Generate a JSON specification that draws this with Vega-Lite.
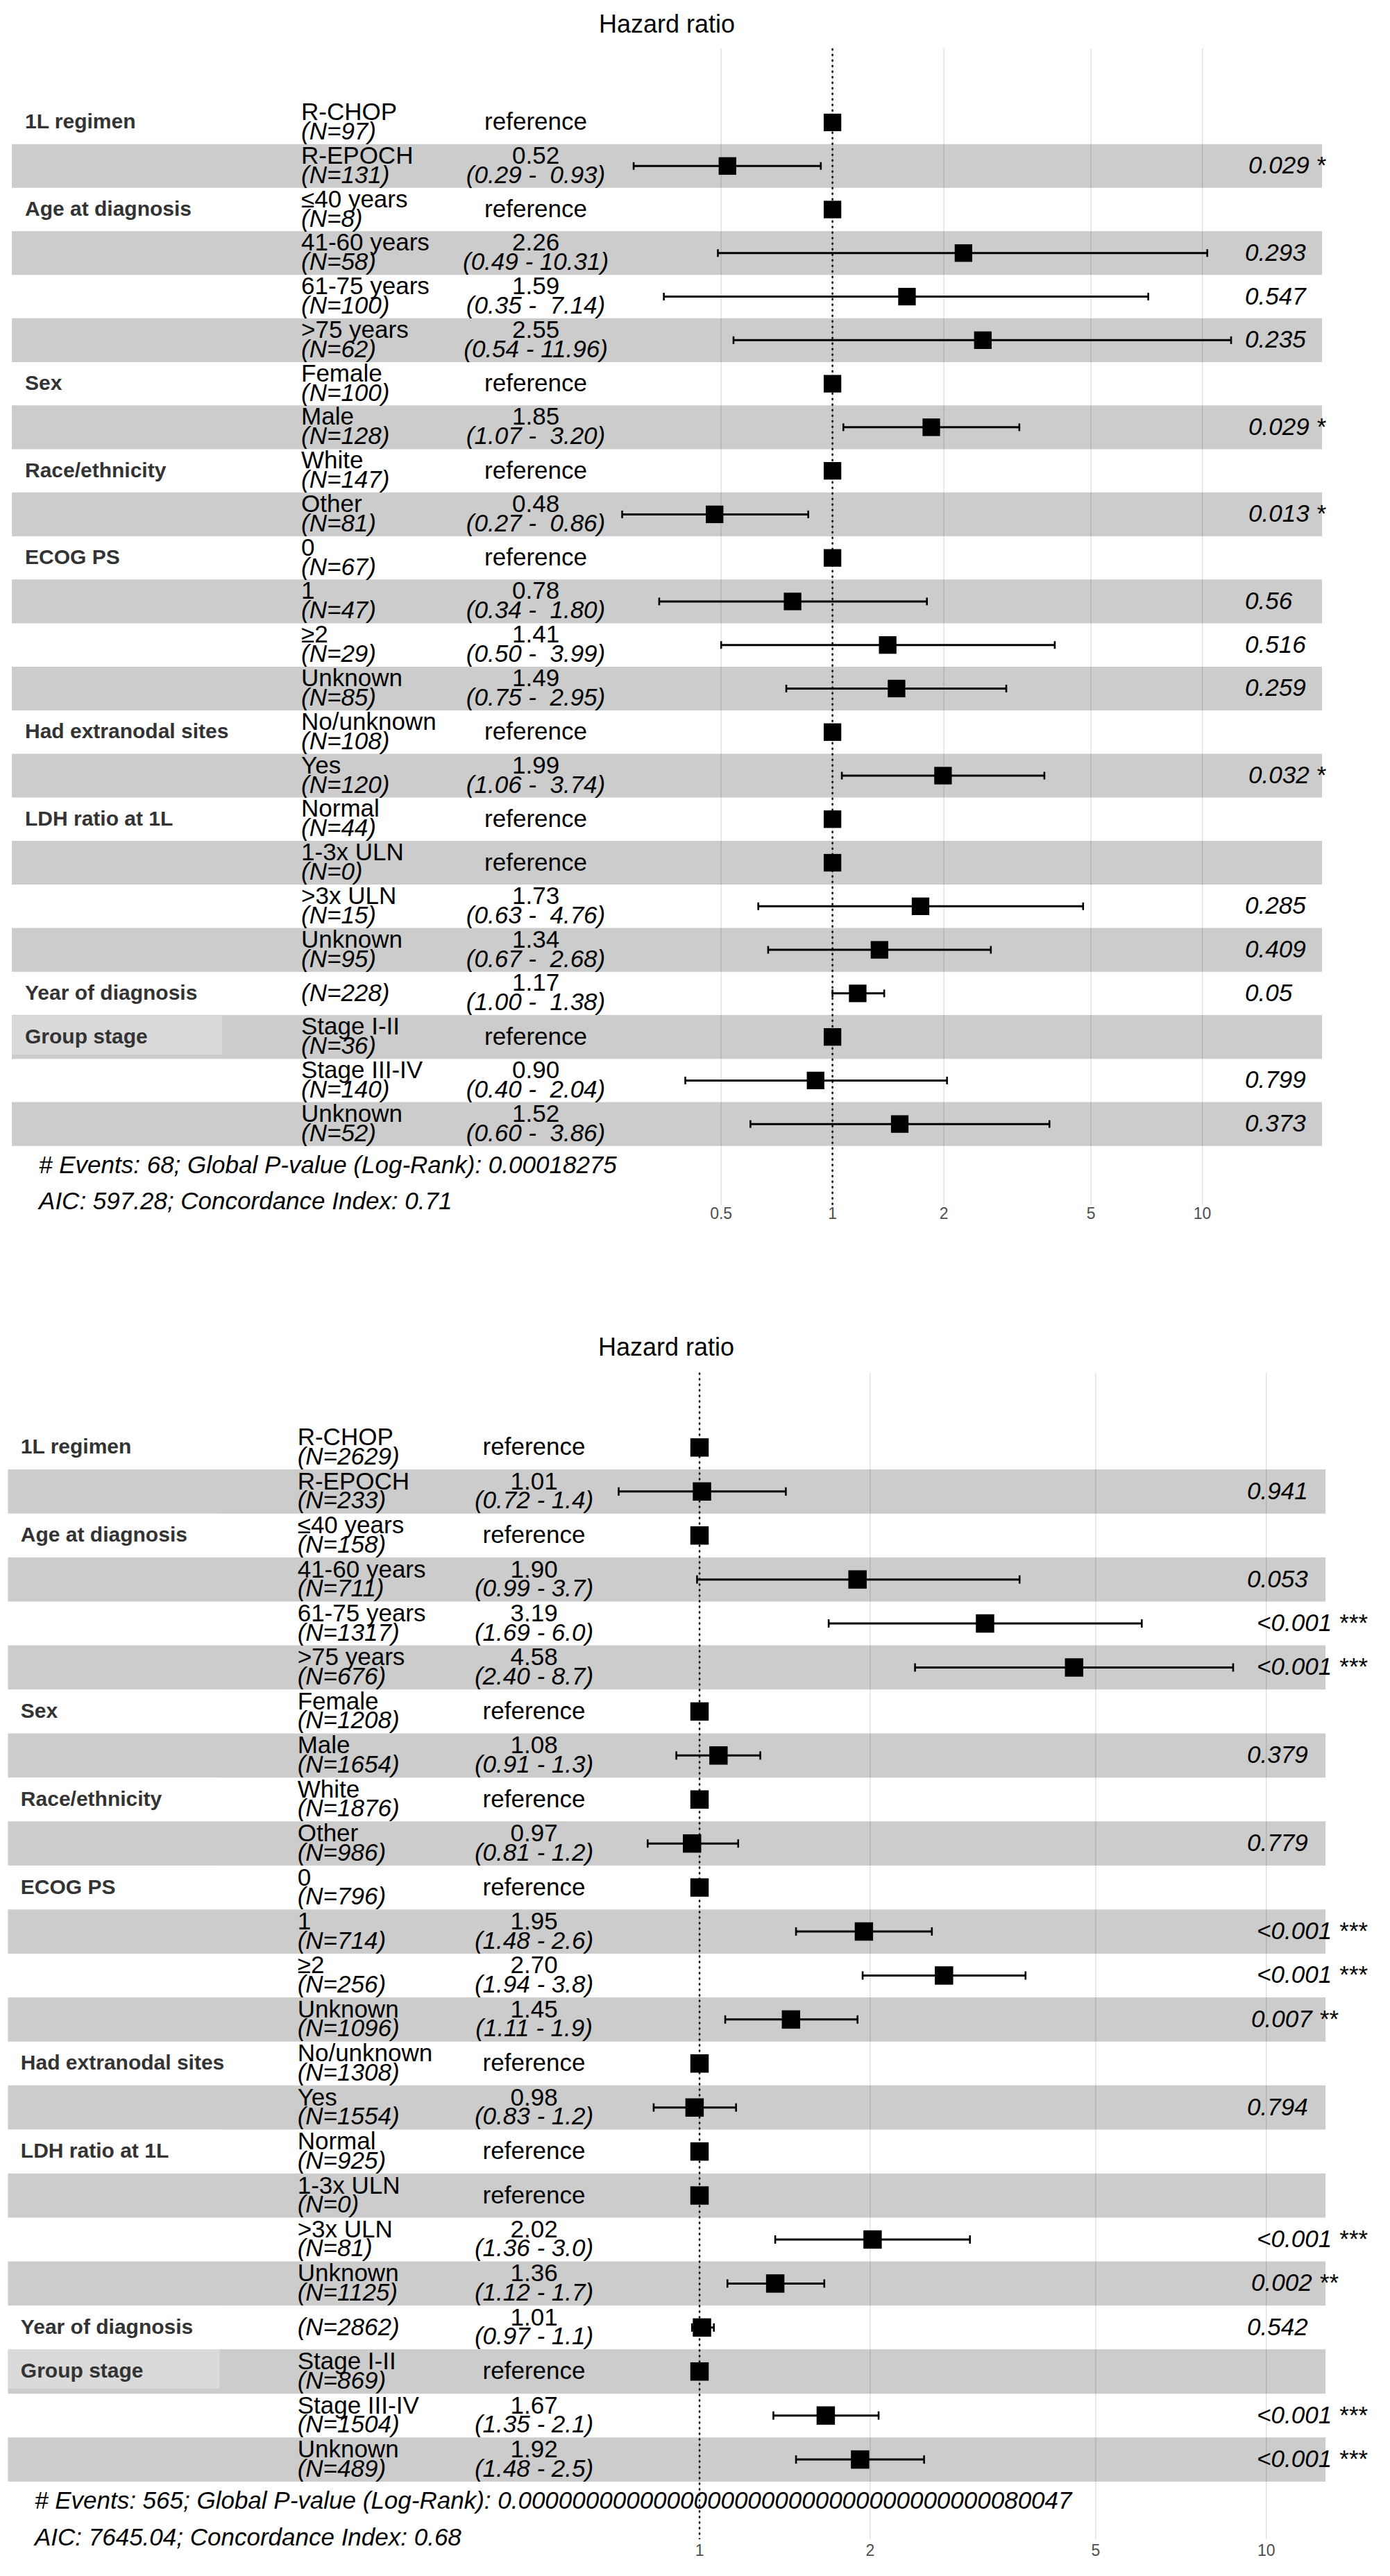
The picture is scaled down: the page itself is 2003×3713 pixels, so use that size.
{
"$schema": "https://vega.github.io/schema/vega-lite/v6.json",
"padding": 0,
"spacing": 158,
"bounds": "flush",
"background": "white",
"config": {"view": {"stroke": null}, "font": "Liberation Sans", "text": {"font": "Liberation Sans"}},
"datasets": {
"top": [
{"row":1,"group":"1L regimen","level":"R-CHOP","n":"(N=97)","est":"reference","ci":"","p":"","hr":1,"lo":null,"hi":null},
{"row":2,"group":"","level":"R-EPOCH","n":"(N=131)","est":"0.52","ci":"(0.29 -\u00a0 0.93)","p":"0.029 *","hr":0.52,"lo":0.29,"hi":0.93},
{"row":3,"group":"Age at diagnosis","level":"≤40 years","n":"(N=8)","est":"reference","ci":"","p":"","hr":1,"lo":null,"hi":null},
{"row":4,"group":"","level":"41-60 years","n":"(N=58)","est":"2.26","ci":"(0.49 - 10.31)","p":"0.293","hr":2.26,"lo":0.49,"hi":10.31},
{"row":5,"group":"","level":"61-75 years","n":"(N=100)","est":"1.59","ci":"(0.35 -\u00a0 7.14)","p":"0.547","hr":1.59,"lo":0.35,"hi":7.14},
{"row":6,"group":"","level":">75 years","n":"(N=62)","est":"2.55","ci":"(0.54 - 11.96)","p":"0.235","hr":2.55,"lo":0.54,"hi":11.96},
{"row":7,"group":"Sex","level":"Female","n":"(N=100)","est":"reference","ci":"","p":"","hr":1,"lo":null,"hi":null},
{"row":8,"group":"","level":"Male","n":"(N=128)","est":"1.85","ci":"(1.07 -\u00a0 3.20)","p":"0.029 *","hr":1.85,"lo":1.07,"hi":3.20},
{"row":9,"group":"Race/ethnicity","level":"White","n":"(N=147)","est":"reference","ci":"","p":"","hr":1,"lo":null,"hi":null},
{"row":10,"group":"","level":"Other","n":"(N=81)","est":"0.48","ci":"(0.27 -\u00a0 0.86)","p":"0.013 *","hr":0.48,"lo":0.27,"hi":0.86},
{"row":11,"group":"ECOG PS","level":"0","n":"(N=67)","est":"reference","ci":"","p":"","hr":1,"lo":null,"hi":null},
{"row":12,"group":"","level":"1","n":"(N=47)","est":"0.78","ci":"(0.34 -\u00a0 1.80)","p":"0.56","hr":0.78,"lo":0.34,"hi":1.80},
{"row":13,"group":"","level":"≥2","n":"(N=29)","est":"1.41","ci":"(0.50 -\u00a0 3.99)","p":"0.516","hr":1.41,"lo":0.50,"hi":3.99},
{"row":14,"group":"","level":"Unknown","n":"(N=85)","est":"1.49","ci":"(0.75 -\u00a0 2.95)","p":"0.259","hr":1.49,"lo":0.75,"hi":2.95},
{"row":15,"group":"Had extranodal sites","level":"No/unknown","n":"(N=108)","est":"reference","ci":"","p":"","hr":1,"lo":null,"hi":null},
{"row":16,"group":"","level":"Yes","n":"(N=120)","est":"1.99","ci":"(1.06 -\u00a0 3.74)","p":"0.032 *","hr":1.99,"lo":1.06,"hi":3.74},
{"row":17,"group":"LDH ratio at 1L","level":"Normal","n":"(N=44)","est":"reference","ci":"","p":"","hr":1,"lo":null,"hi":null},
{"row":18,"group":"","level":"1-3x ULN","n":"(N=0)","est":"reference","ci":"","p":"","hr":1,"lo":null,"hi":null},
{"row":19,"group":"","level":">3x ULN","n":"(N=15)","est":"1.73","ci":"(0.63 -\u00a0 4.76)","p":"0.285","hr":1.73,"lo":0.63,"hi":4.76},
{"row":20,"group":"","level":"Unknown","n":"(N=95)","est":"1.34","ci":"(0.67 -\u00a0 2.68)","p":"0.409","hr":1.34,"lo":0.67,"hi":2.68},
{"row":21,"group":"Year of diagnosis","level":"","n":"(N=228)","est":"1.17","ci":"(1.00 -\u00a0 1.38)","p":"0.05","hr":1.17,"lo":1.00,"hi":1.38},
{"row":22,"group":"Group stage","level":"Stage I-II","n":"(N=36)","est":"reference","ci":"","p":"","hr":1,"lo":null,"hi":null},
{"row":23,"group":"","level":"Stage III-IV","n":"(N=140)","est":"0.90","ci":"(0.40 -\u00a0 2.04)","p":"0.799","hr":0.90,"lo":0.40,"hi":2.04},
{"row":24,"group":"","level":"Unknown","n":"(N=52)","est":"1.52","ci":"(0.60 -\u00a0 3.86)","p":"0.373","hr":1.52,"lo":0.60,"hi":3.86}
],
"bottom": [
{"row":1,"group":"1L regimen","level":"R-CHOP","n":"(N=2629)","est":"reference","ci":"","p":"","hr":1,"lo":null,"hi":null},
{"row":2,"group":"","level":"R-EPOCH","n":"(N=233)","est":"1.01","ci":"(0.72 - 1.4)","p":"0.941","hr":1.01,"lo":0.72,"hi":1.42},
{"row":3,"group":"Age at diagnosis","level":"≤40 years","n":"(N=158)","est":"reference","ci":"","p":"","hr":1,"lo":null,"hi":null},
{"row":4,"group":"","level":"41-60 years","n":"(N=711)","est":"1.90","ci":"(0.99 - 3.7)","p":"0.053","hr":1.90,"lo":0.99,"hi":3.67},
{"row":5,"group":"","level":"61-75 years","n":"(N=1317)","est":"3.19","ci":"(1.69 - 6.0)","p":"<0.001 ***","hr":3.19,"lo":1.69,"hi":6.03},
{"row":6,"group":"","level":">75 years","n":"(N=676)","est":"4.58","ci":"(2.40 - 8.7)","p":"<0.001 ***","hr":4.58,"lo":2.40,"hi":8.74},
{"row":7,"group":"Sex","level":"Female","n":"(N=1208)","est":"reference","ci":"","p":"","hr":1,"lo":null,"hi":null},
{"row":8,"group":"","level":"Male","n":"(N=1654)","est":"1.08","ci":"(0.91 - 1.3)","p":"0.379","hr":1.08,"lo":0.91,"hi":1.28},
{"row":9,"group":"Race/ethnicity","level":"White","n":"(N=1876)","est":"reference","ci":"","p":"","hr":1,"lo":null,"hi":null},
{"row":10,"group":"","level":"Other","n":"(N=986)","est":"0.97","ci":"(0.81 - 1.2)","p":"0.779","hr":0.97,"lo":0.81,"hi":1.17},
{"row":11,"group":"ECOG PS","level":"0","n":"(N=796)","est":"reference","ci":"","p":"","hr":1,"lo":null,"hi":null},
{"row":12,"group":"","level":"1","n":"(N=714)","est":"1.95","ci":"(1.48 - 2.6)","p":"<0.001 ***","hr":1.95,"lo":1.48,"hi":2.57},
{"row":13,"group":"","level":"≥2","n":"(N=256)","est":"2.70","ci":"(1.94 - 3.8)","p":"<0.001 ***","hr":2.70,"lo":1.94,"hi":3.76},
{"row":14,"group":"","level":"Unknown","n":"(N=1096)","est":"1.45","ci":"(1.11 - 1.9)","p":"0.007 **","hr":1.45,"lo":1.11,"hi":1.90},
{"row":15,"group":"Had extranodal sites","level":"No/unknown","n":"(N=1308)","est":"reference","ci":"","p":"","hr":1,"lo":null,"hi":null},
{"row":16,"group":"","level":"Yes","n":"(N=1554)","est":"0.98","ci":"(0.83 - 1.2)","p":"0.794","hr":0.98,"lo":0.83,"hi":1.16},
{"row":17,"group":"LDH ratio at 1L","level":"Normal","n":"(N=925)","est":"reference","ci":"","p":"","hr":1,"lo":null,"hi":null},
{"row":18,"group":"","level":"1-3x ULN","n":"(N=0)","est":"reference","ci":"","p":"","hr":1,"lo":null,"hi":null},
{"row":19,"group":"","level":">3x ULN","n":"(N=81)","est":"2.02","ci":"(1.36 - 3.0)","p":"<0.001 ***","hr":2.02,"lo":1.36,"hi":3.00},
{"row":20,"group":"","level":"Unknown","n":"(N=1125)","est":"1.36","ci":"(1.12 - 1.7)","p":"0.002 **","hr":1.36,"lo":1.12,"hi":1.66},
{"row":21,"group":"Year of diagnosis","level":"","n":"(N=2862)","est":"1.01","ci":"(0.97 - 1.1)","p":"0.542","hr":1.01,"lo":0.97,"hi":1.06},
{"row":22,"group":"Group stage","level":"Stage I-II","n":"(N=869)","est":"reference","ci":"","p":"","hr":1,"lo":null,"hi":null},
{"row":23,"group":"","level":"Stage III-IV","n":"(N=1504)","est":"1.67","ci":"(1.35 - 2.1)","p":"<0.001 ***","hr":1.67,"lo":1.35,"hi":2.07},
{"row":24,"group":"","level":"Unknown","n":"(N=489)","est":"1.92","ci":"(1.48 - 2.5)","p":"<0.001 ***","hr":1.92,"lo":1.48,"hi":2.49}
],
"ticksTop": [{"hr":0.5,"label":"0.5"},{"hr":1,"label":"1"},{"hr":2,"label":"2"},{"hr":5,"label":"5"},{"hr":10,"label":"10"}],
"ticksBottom": [{"hr":1,"label":"1"},{"hr":2,"label":"2"},{"hr":5,"label":"5"},{"hr":10,"label":"10"}],
"notesTop": [
{"line":1,"text":"# Events: 68; Global P-value (Log-Rank): 0.00018275"},
{"line":2,"text":"AIC: 597.28; Concordance Index: 0.71"}
],
"notesBottom": [
{"line":1,"text":"# Events: 565; Global P-value (Log-Rank): 0.00000000000000000000000000000000000080047"},
{"line":2,"text":"AIC: 7645.04; Concordance Index: 0.68"}
],
"one": [{"title":"Hazard ratio"}]
},
"vconcat": [
{
"width": 2003, "height": 1742,
"data": {"name": "top"},
"layer": [
{"data": {"name": "ticksTop"}, "mark": {"type": "rule", "color": "#dedede", "strokeWidth": 1.3},
 "encoding": {
  "x": {"field": "hr", "type": "quantitative", "scale": {"type": "log", "domain": [0.005614, 32.16], "nice": false}, "axis": null},
  "y": {"datum": -0.7023, "type": "quantitative", "scale": {"domain": [-1.7319, 25.8616], "reverse": true, "nice": false, "zero": false}, "axis": null},
  "y2": {"datum": 25.8616}}},
{"data": {"name": "ticksTop"}, "mark": {"type": "text", "align": "center", "baseline": "middle", "fontSize": 23, "color": "#4d4d4d"},
 "encoding": {
  "x": {"field": "hr", "type": "quantitative", "scale": {"type": "log", "domain": [0.005614, 32.16], "nice": false}, "axis": null},
  "y": {"datum": 26.068, "type": "quantitative", "scale": {"domain": [-1.7319, 25.8616], "reverse": true, "nice": false, "zero": false}, "axis": null},
  "text": {"field": "label"}}},
{"transform": [{"filter": "datum.row % 2 == 0"}], "mark": {"type": "bar", "orient": "horizontal", "color": "black", "opacity": 0.2, "size": 63.13},
 "encoding": {
  "x": {"datum": 0.006043, "type": "quantitative", "scale": {"type": "log", "domain": [0.005614, 32.16], "nice": false}, "axis": null},
  "x2": {"datum": 21.06},
  "y": {"field": "row", "type": "quantitative", "scale": {"domain": [-1.7319, 25.8616], "reverse": true, "nice": false, "zero": false}, "axis": null}}},
{"transform": [{"filter": "datum.group != ''"}], "mark": {"type": "bar", "orient": "horizontal", "color": "white", "opacity": 0.27, "size": 56.3, "yOffset": -2.4},
 "encoding": {
  "x": {"datum": 0.006043, "type": "quantitative", "scale": {"type": "log", "domain": [0.005614, 32.16], "nice": false}, "axis": null},
  "x2": {"datum": 0.02237},
  "y": {"field": "row", "type": "quantitative", "scale": {"domain": [-1.7319, 25.8616], "reverse": true, "nice": false, "zero": false}, "axis": null}}},
{"data": {"name": "one"}, "mark": {"type": "rule", "color": "black", "strokeWidth": 2.4, "strokeDash": [3, 5]},
 "encoding": {
  "x": {"datum": 1, "type": "quantitative", "scale": {"type": "log", "domain": [0.005614, 32.16], "nice": false}, "axis": null},
  "y": {"datum": -0.7023, "type": "quantitative", "scale": {"domain": [-1.7319, 25.8616], "reverse": true, "nice": false, "zero": false}, "axis": null},
  "y2": {"datum": 25.8616}}},
{"transform": [{"filter": "isValid(datum.lo)"}], "mark": {"type": "rule", "color": "black", "strokeWidth": 3},
 "encoding": {
  "x": {"field": "lo", "type": "quantitative", "scale": {"type": "log", "domain": [0.005614, 32.16], "nice": false}, "axis": null},
  "x2": {"field": "hi"},
  "y": {"field": "row", "type": "quantitative", "scale": {"domain": [-1.7319, 25.8616], "reverse": true, "nice": false, "zero": false}, "axis": null}}},
{"transform": [{"filter": "isValid(datum.lo)"}], "mark": {"type": "tick", "orient": "vertical", "color": "black", "size": 11, "thickness": 2.6, "opacity": 1},
 "encoding": {
  "x": {"field": "lo", "type": "quantitative", "scale": {"type": "log", "domain": [0.005614, 32.16], "nice": false}, "axis": null},
  "y": {"field": "row", "type": "quantitative", "scale": {"domain": [-1.7319, 25.8616], "reverse": true, "nice": false, "zero": false}, "axis": null}}},
{"transform": [{"filter": "isValid(datum.hi)"}], "mark": {"type": "tick", "orient": "vertical", "color": "black", "size": 11, "thickness": 2.6, "opacity": 1},
 "encoding": {
  "x": {"field": "hi", "type": "quantitative", "scale": {"type": "log", "domain": [0.005614, 32.16], "nice": false}, "axis": null},
  "y": {"field": "row", "type": "quantitative", "scale": {"domain": [-1.7319, 25.8616], "reverse": true, "nice": false, "zero": false}, "axis": null}}},
{"mark": {"type": "point", "shape": "square", "filled": true, "color": "black", "opacity": 1, "size": 640},
 "encoding": {
  "x": {"field": "hr", "type": "quantitative", "scale": {"type": "log", "domain": [0.005614, 32.16], "nice": false}, "axis": null},
  "y": {"field": "row", "type": "quantitative", "scale": {"domain": [-1.7319, 25.8616], "reverse": true, "nice": false, "zero": false}, "axis": null}}},
{"transform": [{"filter": "datum.group != ''"}], "mark": {"type": "text", "align": "left", "baseline": "middle", "fontSize": 30, "fontWeight": "bold", "color": "#333333"},
 "encoding": {
  "x": {"datum": 0.006558, "type": "quantitative", "scale": {"type": "log", "domain": [0.005614, 32.16], "nice": false}, "axis": null},
  "y": {"field": "row", "type": "quantitative", "scale": {"domain": [-1.7319, 25.8616], "reverse": true, "nice": false, "zero": false}, "axis": null},
  "text": {"field": "group"}}},
{"transform": [{"filter": "datum.level != ''"}], "mark": {"type": "text", "align": "left", "baseline": "alphabetic", "dy": -3.5, "fontSize": 35, "color": "black"},
 "encoding": {
  "x": {"datum": 0.03661, "type": "quantitative", "scale": {"type": "log", "domain": [0.005614, 32.16], "nice": false}, "axis": null},
  "y": {"field": "row", "type": "quantitative", "scale": {"domain": [-1.7319, 25.8616], "reverse": true, "nice": false, "zero": false}, "axis": null},
  "text": {"field": "level"}}},
{"transform": [{"filter": "datum.level != ''"}], "mark": {"type": "text", "align": "left", "baseline": "alphabetic", "dy": 24.5, "fontSize": 35, "fontStyle": "italic", "color": "black"},
 "encoding": {
  "x": {"datum": 0.03661, "type": "quantitative", "scale": {"type": "log", "domain": [0.005614, 32.16], "nice": false}, "axis": null},
  "y": {"field": "row", "type": "quantitative", "scale": {"domain": [-1.7319, 25.8616], "reverse": true, "nice": false, "zero": false}, "axis": null},
  "text": {"field": "n"}}},
{"transform": [{"filter": "datum.level == ''"}], "mark": {"type": "text", "align": "left", "baseline": "middle", "fontSize": 35, "fontStyle": "italic", "color": "black"},
 "encoding": {
  "x": {"datum": 0.03661, "type": "quantitative", "scale": {"type": "log", "domain": [0.005614, 32.16], "nice": false}, "axis": null},
  "y": {"field": "row", "type": "quantitative", "scale": {"domain": [-1.7319, 25.8616], "reverse": true, "nice": false, "zero": false}, "axis": null},
  "text": {"field": "n"}}},
{"transform": [{"filter": "datum.est == 'reference'"}], "mark": {"type": "text", "align": "center", "baseline": "middle", "fontSize": 35, "color": "black"},
 "encoding": {
  "x": {"datum": 0.15768, "type": "quantitative", "scale": {"type": "log", "domain": [0.005614, 32.16], "nice": false}, "axis": null},
  "y": {"field": "row", "type": "quantitative", "scale": {"domain": [-1.7319, 25.8616], "reverse": true, "nice": false, "zero": false}, "axis": null},
  "text": {"field": "est"}}},
{"transform": [{"filter": "datum.est != 'reference'"}], "mark": {"type": "text", "align": "center", "baseline": "alphabetic", "dy": -3.5, "fontSize": 35, "color": "black"},
 "encoding": {
  "x": {"datum": 0.15768, "type": "quantitative", "scale": {"type": "log", "domain": [0.005614, 32.16], "nice": false}, "axis": null},
  "y": {"field": "row", "type": "quantitative", "scale": {"domain": [-1.7319, 25.8616], "reverse": true, "nice": false, "zero": false}, "axis": null},
  "text": {"field": "est"}}},
{"transform": [{"filter": "datum.est != 'reference'"}], "mark": {"type": "text", "align": "center", "baseline": "alphabetic", "dy": 24.5, "fontSize": 35, "fontStyle": "italic", "color": "black"},
 "encoding": {
  "x": {"datum": 0.15768, "type": "quantitative", "scale": {"type": "log", "domain": [0.005614, 32.16], "nice": false}, "axis": null},
  "y": {"field": "row", "type": "quantitative", "scale": {"domain": [-1.7319, 25.8616], "reverse": true, "nice": false, "zero": false}, "axis": null},
  "text": {"field": "ci"}}},
{"transform": [{"filter": "datum.p != '' && length(datum.p) <= 5"}], "mark": {"type": "text", "align": "left", "baseline": "middle", "dx": 17, "fontSize": 35, "fontStyle": "italic", "color": "black"},
 "encoding": {
  "x": {"datum": 12.115, "type": "quantitative", "scale": {"type": "log", "domain": [0.005614, 32.16], "nice": false}, "axis": null},
  "y": {"field": "row", "type": "quantitative", "scale": {"domain": [-1.7319, 25.8616], "reverse": true, "nice": false, "zero": false}, "axis": null},
  "text": {"field": "p"}}},
{"transform": [{"filter": "length(datum.p) > 5"}], "mark": {"type": "text", "align": "left", "baseline": "middle", "dx": 22, "fontSize": 35, "fontStyle": "italic", "color": "black"},
 "encoding": {
  "x": {"datum": 12.115, "type": "quantitative", "scale": {"type": "log", "domain": [0.005614, 32.16], "nice": false}, "axis": null},
  "y": {"field": "row", "type": "quantitative", "scale": {"domain": [-1.7319, 25.8616], "reverse": true, "nice": false, "zero": false}, "axis": null},
  "text": {"field": "p"}}},
{"data": {"name": "one"}, "mark": {"type": "text", "align": "center", "baseline": "middle", "fontSize": 36, "color": "black"},
 "encoding": {
  "x": {"datum": 0.3567, "type": "quantitative", "scale": {"type": "log", "domain": [0.005614, 32.16], "nice": false}, "axis": null},
  "y": {"datum": -1.2409, "type": "quantitative", "scale": {"domain": [-1.7319, 25.8616], "reverse": true, "nice": false, "zero": false}, "axis": null},
  "text": {"field": "title"}}},
{"data": {"name": "notesTop"}, "transform": [{"filter": "datum.line == 1"}], "mark": {"type": "text", "align": "left", "baseline": "middle", "fontSize": 35, "fontStyle": "italic", "color": "black"},
 "encoding": {
  "x": {"datum": 0.007152, "type": "quantitative", "scale": {"type": "log", "domain": [0.005614, 32.16], "nice": false}, "axis": null},
  "y": {"datum": 24.959, "type": "quantitative", "scale": {"domain": [-1.7319, 25.8616], "reverse": true, "nice": false, "zero": false}, "axis": null},
  "text": {"field": "text"}}},
{"data": {"name": "notesTop"}, "transform": [{"filter": "datum.line == 2"}], "mark": {"type": "text", "align": "left", "baseline": "middle", "fontSize": 35, "fontStyle": "italic", "color": "black"},
 "encoding": {
  "x": {"datum": 0.007152, "type": "quantitative", "scale": {"type": "log", "domain": [0.005614, 32.16], "nice": false}, "axis": null},
  "y": {"datum": 25.783, "type": "quantitative", "scale": {"domain": [-1.7319, 25.8616], "reverse": true, "nice": false, "zero": false}, "axis": null},
  "text": {"field": "text"}}}
]
},
{
"width": 2003, "height": 1765,
"data": {"name": "bottom"},
"layer": [
{"data": {"name": "ticksBottom"}, "mark": {"type": "rule", "color": "#dedede", "strokeWidth": 1.3},
 "encoding": {
  "x": {"field": "hr", "type": "quantitative", "scale": {"type": "log", "domain": [0.05831, 16.53], "nice": false}, "axis": null},
  "y": {"datum": -0.6994, "type": "quantitative", "scale": {"domain": [-1.8595, 25.8116], "reverse": true, "nice": false, "zero": false}, "axis": null},
  "y2": {"datum": 25.8116}}},
{"data": {"name": "ticksBottom"}, "mark": {"type": "text", "align": "center", "baseline": "middle", "fontSize": 23, "color": "#4d4d4d"},
 "encoding": {
  "x": {"field": "hr", "type": "quantitative", "scale": {"type": "log", "domain": [0.05831, 16.53], "nice": false}, "axis": null},
  "y": {"datum": 26.078, "type": "quantitative", "scale": {"domain": [-1.8595, 25.8116], "reverse": true, "nice": false, "zero": false}, "axis": null},
  "text": {"field": "label"}}},
{"transform": [{"filter": "datum.row % 2 == 0"}], "mark": {"type": "bar", "orient": "horizontal", "color": "black", "opacity": 0.2, "size": 63.785},
 "encoding": {
  "x": {"datum": 0.06022, "type": "quantitative", "scale": {"type": "log", "domain": [0.05831, 16.53], "nice": false}, "axis": null},
  "x2": {"datum": 12.72},
  "y": {"field": "row", "type": "quantitative", "scale": {"domain": [-1.8595, 25.8116], "reverse": true, "nice": false, "zero": false}, "axis": null}}},
{"transform": [{"filter": "datum.group != ''"}], "mark": {"type": "bar", "orient": "horizontal", "color": "white", "opacity": 0.27, "size": 56.7, "yOffset": -3.5},
 "encoding": {
  "x": {"datum": 0.06022, "type": "quantitative", "scale": {"type": "log", "domain": [0.05831, 16.53], "nice": false}, "axis": null},
  "x2": {"datum": 0.1424},
  "y": {"field": "row", "type": "quantitative", "scale": {"domain": [-1.8595, 25.8116], "reverse": true, "nice": false, "zero": false}, "axis": null}}},
{"data": {"name": "one"}, "mark": {"type": "rule", "color": "black", "strokeWidth": 2.4, "strokeDash": [3, 5]},
 "encoding": {
  "x": {"datum": 1, "type": "quantitative", "scale": {"type": "log", "domain": [0.05831, 16.53], "nice": false}, "axis": null},
  "y": {"datum": -0.6994, "type": "quantitative", "scale": {"domain": [-1.8595, 25.8116], "reverse": true, "nice": false, "zero": false}, "axis": null},
  "y2": {"datum": 25.8116}}},
{"transform": [{"filter": "isValid(datum.lo)"}], "mark": {"type": "rule", "color": "black", "strokeWidth": 3},
 "encoding": {
  "x": {"field": "lo", "type": "quantitative", "scale": {"type": "log", "domain": [0.05831, 16.53], "nice": false}, "axis": null},
  "x2": {"field": "hi"},
  "y": {"field": "row", "type": "quantitative", "scale": {"domain": [-1.8595, 25.8116], "reverse": true, "nice": false, "zero": false}, "axis": null}}},
{"transform": [{"filter": "isValid(datum.lo)"}], "mark": {"type": "tick", "orient": "vertical", "color": "black", "size": 12, "thickness": 2.6, "opacity": 1},
 "encoding": {
  "x": {"field": "lo", "type": "quantitative", "scale": {"type": "log", "domain": [0.05831, 16.53], "nice": false}, "axis": null},
  "y": {"field": "row", "type": "quantitative", "scale": {"domain": [-1.8595, 25.8116], "reverse": true, "nice": false, "zero": false}, "axis": null}}},
{"transform": [{"filter": "isValid(datum.hi)"}], "mark": {"type": "tick", "orient": "vertical", "color": "black", "size": 12, "thickness": 2.6, "opacity": 1},
 "encoding": {
  "x": {"field": "hi", "type": "quantitative", "scale": {"type": "log", "domain": [0.05831, 16.53], "nice": false}, "axis": null},
  "y": {"field": "row", "type": "quantitative", "scale": {"domain": [-1.8595, 25.8116], "reverse": true, "nice": false, "zero": false}, "axis": null}}},
{"mark": {"type": "point", "shape": "square", "filled": true, "color": "black", "opacity": 1, "size": 700},
 "encoding": {
  "x": {"field": "hr", "type": "quantitative", "scale": {"type": "log", "domain": [0.05831, 16.53], "nice": false}, "axis": null},
  "y": {"field": "row", "type": "quantitative", "scale": {"domain": [-1.8595, 25.8116], "reverse": true, "nice": false, "zero": false}, "axis": null}}},
{"transform": [{"filter": "datum.group != ''"}], "mark": {"type": "text", "align": "left", "baseline": "middle", "fontSize": 30, "fontWeight": "bold", "color": "#333333"},
 "encoding": {
  "x": {"datum": 0.06343, "type": "quantitative", "scale": {"type": "log", "domain": [0.05831, 16.53], "nice": false}, "axis": null},
  "y": {"field": "row", "type": "quantitative", "scale": {"domain": [-1.8595, 25.8116], "reverse": true, "nice": false, "zero": false}, "axis": null},
  "text": {"field": "group"}}},
{"transform": [{"filter": "datum.level != ''"}], "mark": {"type": "text", "align": "left", "baseline": "alphabetic", "dy": -3, "fontSize": 35, "color": "black"},
 "encoding": {
  "x": {"datum": 0.19527, "type": "quantitative", "scale": {"type": "log", "domain": [0.05831, 16.53], "nice": false}, "axis": null},
  "y": {"field": "row", "type": "quantitative", "scale": {"domain": [-1.8595, 25.8116], "reverse": true, "nice": false, "zero": false}, "axis": null},
  "text": {"field": "level"}}},
{"transform": [{"filter": "datum.level != ''"}], "mark": {"type": "text", "align": "left", "baseline": "alphabetic", "dy": 24.5, "fontSize": 35, "fontStyle": "italic", "color": "black"},
 "encoding": {
  "x": {"datum": 0.19527, "type": "quantitative", "scale": {"type": "log", "domain": [0.05831, 16.53], "nice": false}, "axis": null},
  "y": {"field": "row", "type": "quantitative", "scale": {"domain": [-1.8595, 25.8116], "reverse": true, "nice": false, "zero": false}, "axis": null},
  "text": {"field": "n"}}},
{"transform": [{"filter": "datum.level == ''"}], "mark": {"type": "text", "align": "left", "baseline": "middle", "fontSize": 35, "fontStyle": "italic", "color": "black"},
 "encoding": {
  "x": {"datum": 0.19527, "type": "quantitative", "scale": {"type": "log", "domain": [0.05831, 16.53], "nice": false}, "axis": null},
  "y": {"field": "row", "type": "quantitative", "scale": {"domain": [-1.8595, 25.8116], "reverse": true, "nice": false, "zero": false}, "axis": null},
  "text": {"field": "n"}}},
{"transform": [{"filter": "datum.est == 'reference'"}], "mark": {"type": "text", "align": "center", "baseline": "middle", "fontSize": 35, "color": "black"},
 "encoding": {
  "x": {"datum": 0.51051, "type": "quantitative", "scale": {"type": "log", "domain": [0.05831, 16.53], "nice": false}, "axis": null},
  "y": {"field": "row", "type": "quantitative", "scale": {"domain": [-1.8595, 25.8116], "reverse": true, "nice": false, "zero": false}, "axis": null},
  "text": {"field": "est"}}},
{"transform": [{"filter": "datum.est != 'reference'"}], "mark": {"type": "text", "align": "center", "baseline": "alphabetic", "dy": -3, "fontSize": 35, "color": "black"},
 "encoding": {
  "x": {"datum": 0.51051, "type": "quantitative", "scale": {"type": "log", "domain": [0.05831, 16.53], "nice": false}, "axis": null},
  "y": {"field": "row", "type": "quantitative", "scale": {"domain": [-1.8595, 25.8116], "reverse": true, "nice": false, "zero": false}, "axis": null},
  "text": {"field": "est"}}},
{"transform": [{"filter": "datum.est != 'reference'"}], "mark": {"type": "text", "align": "center", "baseline": "alphabetic", "dy": 24.5, "fontSize": 35, "fontStyle": "italic", "color": "black"},
 "encoding": {
  "x": {"datum": 0.51051, "type": "quantitative", "scale": {"type": "log", "domain": [0.05831, 16.53], "nice": false}, "axis": null},
  "y": {"field": "row", "type": "quantitative", "scale": {"domain": [-1.8595, 25.8116], "reverse": true, "nice": false, "zero": false}, "axis": null},
  "text": {"field": "ci"}}},
{"transform": [{"filter": "datum.p != '' && length(datum.p) <= 5"}], "mark": {"type": "text", "align": "left", "baseline": "middle", "dx": 18, "fontSize": 35, "fontStyle": "italic", "color": "black"},
 "encoding": {
  "x": {"datum": 8.792, "type": "quantitative", "scale": {"type": "log", "domain": [0.05831, 16.53], "nice": false}, "axis": null},
  "y": {"field": "row", "type": "quantitative", "scale": {"domain": [-1.8595, 25.8116], "reverse": true, "nice": false, "zero": false}, "axis": null},
  "text": {"field": "p"}}},
{"transform": [{"filter": "length(datum.p) > 5 && length(datum.p) <= 8"}], "mark": {"type": "text", "align": "left", "baseline": "middle", "dx": 24, "fontSize": 35, "fontStyle": "italic", "color": "black"},
 "encoding": {
  "x": {"datum": 8.792, "type": "quantitative", "scale": {"type": "log", "domain": [0.05831, 16.53], "nice": false}, "axis": null},
  "y": {"field": "row", "type": "quantitative", "scale": {"domain": [-1.8595, 25.8116], "reverse": true, "nice": false, "zero": false}, "axis": null},
  "text": {"field": "p"}}},
{"transform": [{"filter": "length(datum.p) > 8"}], "mark": {"type": "text", "align": "left", "baseline": "middle", "dx": 32, "fontSize": 35, "fontStyle": "italic", "color": "black"},
 "encoding": {
  "x": {"datum": 8.792, "type": "quantitative", "scale": {"type": "log", "domain": [0.05831, 16.53], "nice": false}, "axis": null},
  "y": {"field": "row", "type": "quantitative", "scale": {"domain": [-1.8595, 25.8116], "reverse": true, "nice": false, "zero": false}, "axis": null},
  "text": {"field": "p"}}},
{"data": {"name": "one"}, "mark": {"type": "text", "align": "center", "baseline": "middle", "fontSize": 36, "color": "black"},
 "encoding": {
  "x": {"datum": 0.87345, "type": "quantitative", "scale": {"type": "log", "domain": [0.05831, 16.53], "nice": false}, "axis": null},
  "y": {"datum": -1.2637, "type": "quantitative", "scale": {"domain": [-1.8595, 25.8116], "reverse": true, "nice": false, "zero": false}, "axis": null},
  "text": {"field": "title"}}},
{"data": {"name": "notesBottom"}, "transform": [{"filter": "datum.line == 1"}], "mark": {"type": "text", "align": "left", "baseline": "middle", "fontSize": 35, "fontStyle": "italic", "color": "black"},
 "encoding": {
  "x": {"datum": 0.06713, "type": "quantitative", "scale": {"type": "log", "domain": [0.05831, 16.53], "nice": false}, "axis": null},
  "y": {"datum": 24.949, "type": "quantitative", "scale": {"domain": [-1.8595, 25.8116], "reverse": true, "nice": false, "zero": false}, "axis": null},
  "text": {"field": "text"}}},
{"data": {"name": "notesBottom"}, "transform": [{"filter": "datum.line == 2"}], "mark": {"type": "text", "align": "left", "baseline": "middle", "fontSize": 35, "fontStyle": "italic", "color": "black"},
 "encoding": {
  "x": {"datum": 0.06713, "type": "quantitative", "scale": {"type": "log", "domain": [0.05831, 16.53], "nice": false}, "axis": null},
  "y": {"datum": 25.780, "type": "quantitative", "scale": {"domain": [-1.8595, 25.8116], "reverse": true, "nice": false, "zero": false}, "axis": null},
  "text": {"field": "text"}}}
]
}
]
}
